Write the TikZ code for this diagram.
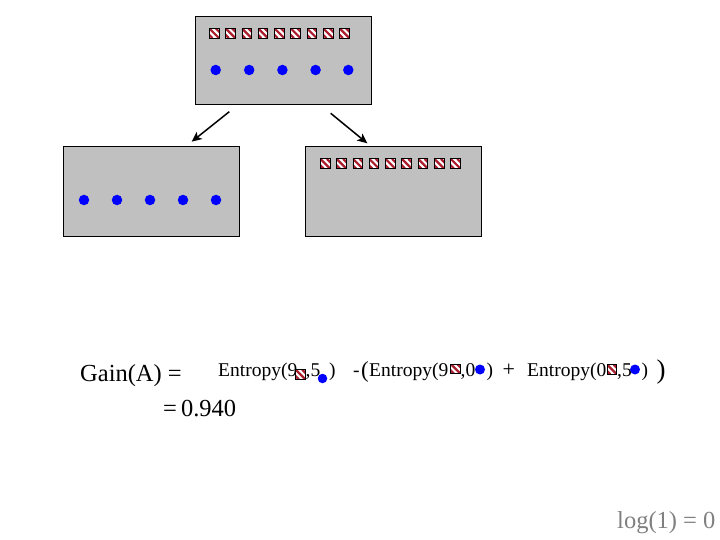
\documentclass[tikz,border=0pt]{standalone}
\usepackage{fontspec}
\setmainfont{Liberation Serif}
\usetikzlibrary{arrows.meta}
\definecolor{boxgray}{RGB}{192,192,192}
\definecolor{stripered}{RGB}{170,30,45}
\definecolor{dotblue}{RGB}{0,0,255}
\definecolor{loggray}{RGB}{128,128,128}
\begin{document}
\begin{tikzpicture}[x=1pt,y=-1pt,
  box/.style={draw=black, line width=1pt, fill=boxgray, minimum width=176pt, minimum height=88pt, inner sep=0pt},
  hsq/.style={draw=black, line width=0.8pt, fill=white, minimum size=9.6pt, inner sep=0pt,
    path picture={\foreach \o in {-6.5,0,6.5}{\draw[stripered, line width=2.2pt] ([xshift=\o pt]path picture bounding box.north west) -- ([xshift=\o pt]path picture bounding box.south east);}}},
  dot/.style={circle, fill=dotblue, minimum size=10.5pt, inner sep=0pt},
  sdot/.style={dot, minimum size=9.5pt},
  txt/.style={anchor=base west, inner sep=0pt, font=\fontsize{19.5}{22}\selectfont},
  bigtxt/.style={anchor=base west, inner sep=0pt, font=\fontsize{24.5}{28}\selectfont},
  arr/.style={-{Stealth[length=10pt,width=9pt,inset=2.5pt]}, line width=1.5pt}]
\useasboundingbox (0,0) rectangle (720,540);
% boxes
\node[box] (top) at (283,61) {};
\node[box, minimum height=89pt] (left) at (151,191.5) {};
\node[box, minimum height=89pt] (right) at (393,191.5) {};
% top box contents
\foreach \i in {0,...,8} \node[hsq] (ts\i) at ({214.2+16.29*\i},33.3) {};
\foreach \x [count=\i] in {215.7,249.2,282.4,315.6,348.3} \node[dot] (tc\i) at (\x,70) {};
% left box contents
\foreach \x [count=\i] in {84,117,150,183,216} \node[dot] (lc\i) at (\x,200) {};
% right box contents
\foreach \i in {0,...,8} \node[hsq] (rs\i) at ({325.2+16.29*\i},163.7) {};
% arrows
\coordinate (la1) at (229.3,111.7);
\coordinate (la2) at (191.7,141.7);
\coordinate (ra1) at (330.7,113.3);
\coordinate (ra2) at (367.3,143.3);
\draw[arr] (la1) -- (la2);
\draw[arr] (ra1) -- (ra2);
% formula
\node[bigtxt] (gain) at (80,381) {Gain(A) =};
\node[bigtxt] (val) at (163,416) {=\kern4pt0.940};
\node[bigtxt, text=loggray] (log) at (617,528) {log(1) = 0};
\node[txt] (e1) at (218,376) {Entropy(9};
\node[hsq] (e1s) at (300.5,374.5) {};
\node[txt] (e1c) at (305.5,376) {,5};
\node[sdot] (e1d) at (322.5,378.5) {};
\node[txt] (e1p) at (329,376) {)};
\node[txt] (minus) at (353,376) {-};
\node[anchor=base west, inner sep=0pt, font=\fontsize{23}{26}\selectfont] (lp) at (361,377) {(};
\node[txt] (e2) at (369,376) {Entropy(9};
\node[hsq] (e2s) at (455.5,368.8) {};
\node[txt] (e2c) at (460.5,376) {,0};
\node[dot, minimum size=10pt] (e2d) at (480,369.5) {};
\node[txt] (e2p) at (486.5,376) {)};
\node[txt, font=\fontsize{22}{24}\selectfont] (plus) at (502.5,376) {+};
\node[txt] (e3) at (527,376) {Entropy(0};
\node[hsq] (e3s) at (612,369.5) {};
\node[txt] (e3c) at (617,376) {,5};
\node[dot, minimum size=10pt] (e3d) at (635,369.5) {};
\node[txt] (e3p) at (641.5,376) {)};
\node[anchor=base west, inner sep=0pt, font=\fontsize{27}{30}\selectfont] (rp) at (656.5,378) {)};
\end{tikzpicture}
\end{document}
